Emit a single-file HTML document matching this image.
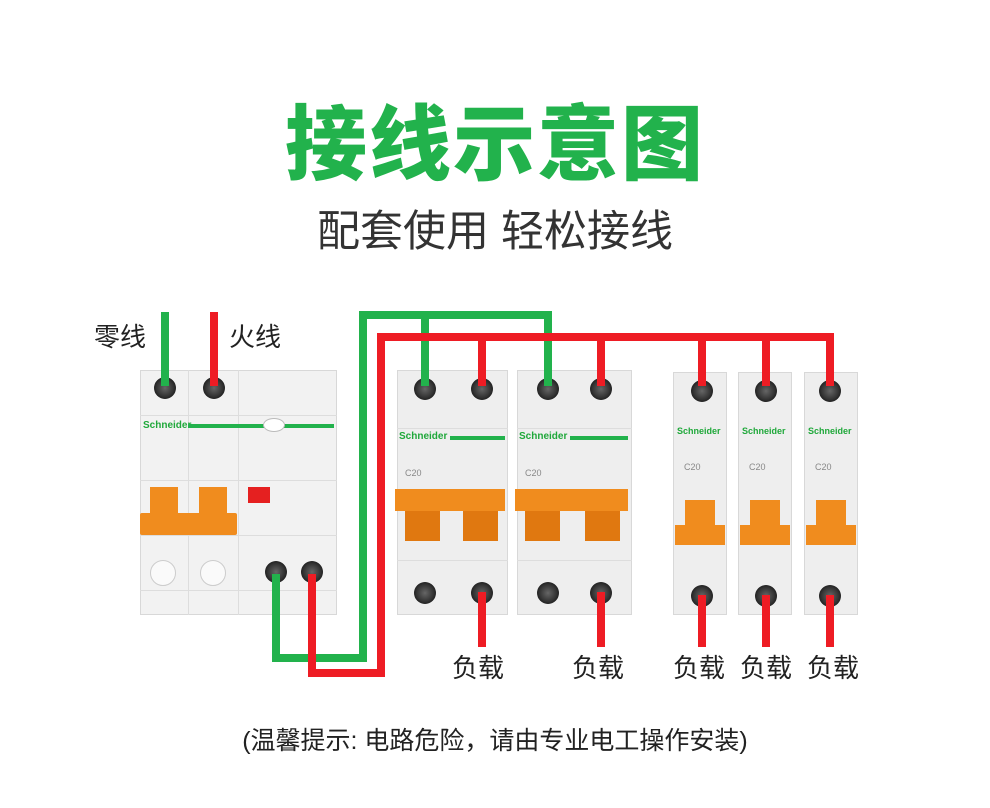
<!DOCTYPE html>
<html><head><meta charset="utf-8"><style>
*{margin:0;padding:0;box-sizing:border-box}
body{width:990px;height:808px;background:#fff;position:relative;overflow:hidden;font-family:"Liberation Sans","Noto Sans CJK SC",sans-serif}
.a{position:absolute}
.t{position:absolute;white-space:nowrap}
.body{position:absolute;background:#eeeeee;border:1px solid #d8d8d8}
.term{position:absolute;width:22px;height:22px;border-radius:50%;background:radial-gradient(circle,#666 0,#333 55%,#222 70%,#bbb 75%,#ddd 100%)}
.logo{position:absolute;color:#1fa83a;font-weight:bold;font-size:10px}
.or{position:absolute;background:#f08c1e}
.ord{position:absolute;background:#e07810}
</style></head><body>
<div class="t" style="left:0;width:990px;top:96px;text-align:center;font-size:82px;font-weight:900;color:#22b24c;letter-spacing:2px;line-height:100px">接线示意图</div>
<div class="t" style="left:0;width:990px;top:205px;text-align:center;font-size:43px;color:#333;line-height:54px">配套使用 轻松接线</div>
<div class="t" style="left:94px;top:317px;font-size:26px;color:#222">零线</div>
<div class="t" style="left:229px;top:317px;font-size:26px;color:#222">火线</div>

<!-- big breaker -->
<div class="body" style="left:140px;top:370px;width:197px;height:245px;background:#f2f2f2"></div>
<div class="a" style="left:140px;top:415px;width:197px;height:1px;background:#ddd"></div>
<div class="a" style="left:188px;top:370px;width:1px;height:245px;background:#ddd"></div>
<div class="a" style="left:238px;top:370px;width:1px;height:245px;background:#ddd"></div>
<div class="a" style="left:140px;top:480px;width:197px;height:1px;background:#ddd"></div>
<div class="a" style="left:140px;top:535px;width:197px;height:1px;background:#ddd"></div>
<div class="a" style="left:140px;top:590px;width:197px;height:1px;background:#ddd"></div>
<div class="logo" style="left:143px;top:420px">Schneider</div>
<div class="a" style="left:188px;top:424px;width:146px;height:4px;background:#22b24c"></div>
<div class="a" style="left:263px;top:418px;width:22px;height:14px;border-radius:50%;background:#fff;border:1px solid #bbb"></div>
<div class="or" style="left:150px;top:487px;width:28px;height:30px"></div>
<div class="or" style="left:199px;top:487px;width:28px;height:30px"></div>
<div class="or" style="left:140px;top:513px;width:97px;height:22px;border-radius:2px"></div>
<div class="a" style="left:248px;top:487px;width:22px;height:16px;background:#e52020"></div>
<div class="a" style="left:150px;top:560px;width:26px;height:26px;border-radius:50%;border:1px solid #ccc;background:#fafafa"></div>
<div class="a" style="left:200px;top:560px;width:26px;height:26px;border-radius:50%;border:1px solid #ccc;background:#fafafa"></div>
<div class="term" style="left:154px;top:377px"></div>
<div class="term" style="left:203px;top:377px"></div>
<div class="term" style="left:265px;top:561px"></div>
<div class="term" style="left:301px;top:561px"></div>

<!-- double breakers -->
<div class="body" style="left:397px;top:370px;width:111px;height:245px"></div>
<div class="body" style="left:517px;top:370px;width:115px;height:245px"></div>
<div class="a" style="left:397px;top:428px;width:111px;height:1px;background:#ddd"></div>
<div class="a" style="left:517px;top:428px;width:115px;height:1px;background:#ddd"></div>
<div class="logo" style="left:399px;top:431px">Schneider</div>
<div class="logo" style="left:519px;top:431px">Schneider</div>
<div class="a" style="left:450px;top:436px;width:55px;height:4px;background:#22b24c"></div>
<div class="a" style="left:570px;top:436px;width:58px;height:4px;background:#22b24c"></div>
<div class="t" style="left:405px;top:468px;font-size:9px;color:#888">C20</div>
<div class="t" style="left:525px;top:468px;font-size:9px;color:#888">C20</div>
<div class="or" style="left:395px;top:489px;width:110px;height:22px"></div>
<div class="ord" style="left:405px;top:511px;width:35px;height:30px"></div>
<div class="ord" style="left:463px;top:511px;width:35px;height:30px"></div>
<div class="or" style="left:515px;top:489px;width:113px;height:22px"></div>
<div class="ord" style="left:525px;top:511px;width:35px;height:30px"></div>
<div class="ord" style="left:585px;top:511px;width:35px;height:30px"></div>
<div class="a" style="left:397px;top:560px;width:111px;height:1px;background:#ddd"></div>
<div class="a" style="left:517px;top:560px;width:115px;height:1px;background:#ddd"></div>
<div class="term" style="left:414px;top:378px"></div>
<div class="term" style="left:471px;top:378px"></div>
<div class="term" style="left:537px;top:378px"></div>
<div class="term" style="left:590px;top:378px"></div>
<div class="term" style="left:414px;top:582px"></div>
<div class="term" style="left:471px;top:582px"></div>
<div class="term" style="left:537px;top:582px"></div>
<div class="term" style="left:590px;top:582px"></div>

<!-- single breakers -->
<div class="body" style="left:673px;top:372px;width:54px;height:243px"></div>
<div class="body" style="left:738px;top:372px;width:54px;height:243px"></div>
<div class="body" style="left:804px;top:372px;width:54px;height:243px"></div>
<div class="logo" style="left:677px;top:426px;font-size:9px">Schneider</div>
<div class="logo" style="left:742px;top:426px;font-size:9px">Schneider</div>
<div class="logo" style="left:808px;top:426px;font-size:9px">Schneider</div>
<div class="t" style="left:684px;top:462px;font-size:9px;color:#888">C20</div>
<div class="t" style="left:749px;top:462px;font-size:9px;color:#888">C20</div>
<div class="t" style="left:815px;top:462px;font-size:9px;color:#888">C20</div>
<div class="or" style="left:685px;top:500px;width:30px;height:30px"></div>
<div class="or" style="left:675px;top:525px;width:50px;height:20px"></div>
<div class="or" style="left:750px;top:500px;width:30px;height:30px"></div>
<div class="or" style="left:740px;top:525px;width:50px;height:20px"></div>
<div class="or" style="left:816px;top:500px;width:30px;height:30px"></div>
<div class="or" style="left:806px;top:525px;width:50px;height:20px"></div>
<div class="term" style="left:691px;top:380px"></div>
<div class="term" style="left:755px;top:380px"></div>
<div class="term" style="left:819px;top:380px"></div>
<div class="term" style="left:691px;top:585px"></div>
<div class="term" style="left:755px;top:585px"></div>
<div class="term" style="left:819px;top:585px"></div>

<svg class="a" style="left:0;top:0" width="990" height="808" fill="none" stroke-width="8" stroke-linecap="butt">
<g stroke="#22b24c">
<path d="M165 312V386"/>
<path d="M276 574V658H363V315H548V386"/>
<path d="M425 315V386"/>
</g>
<g stroke="#ee1c24">
<path d="M214 312V386"/>
<path d="M312 574V673H381V337H830V386"/>
<path d="M482 337V386M601 337V386M702 337V386M766 337V386"/>
<path d="M482 592V647M601 592V647M702 595V647M766 595V647M830 595V647"/>
</g>
</svg>

<div class="t" style="left:452px;top:648px;font-size:26px;color:#222">负载</div>
<div class="t" style="left:572px;top:648px;font-size:26px;color:#222">负载</div>
<div class="t" style="left:673px;top:648px;font-size:26px;color:#222">负载</div>
<div class="t" style="left:740px;top:648px;font-size:26px;color:#222">负载</div>
<div class="t" style="left:807px;top:648px;font-size:26px;color:#222">负载</div>
<div class="t" style="left:0;width:990px;text-align:center;top:721px;font-size:25px;color:#222">(温馨提示: 电路危险，请由专业电工操作安装)</div>
</body></html>
